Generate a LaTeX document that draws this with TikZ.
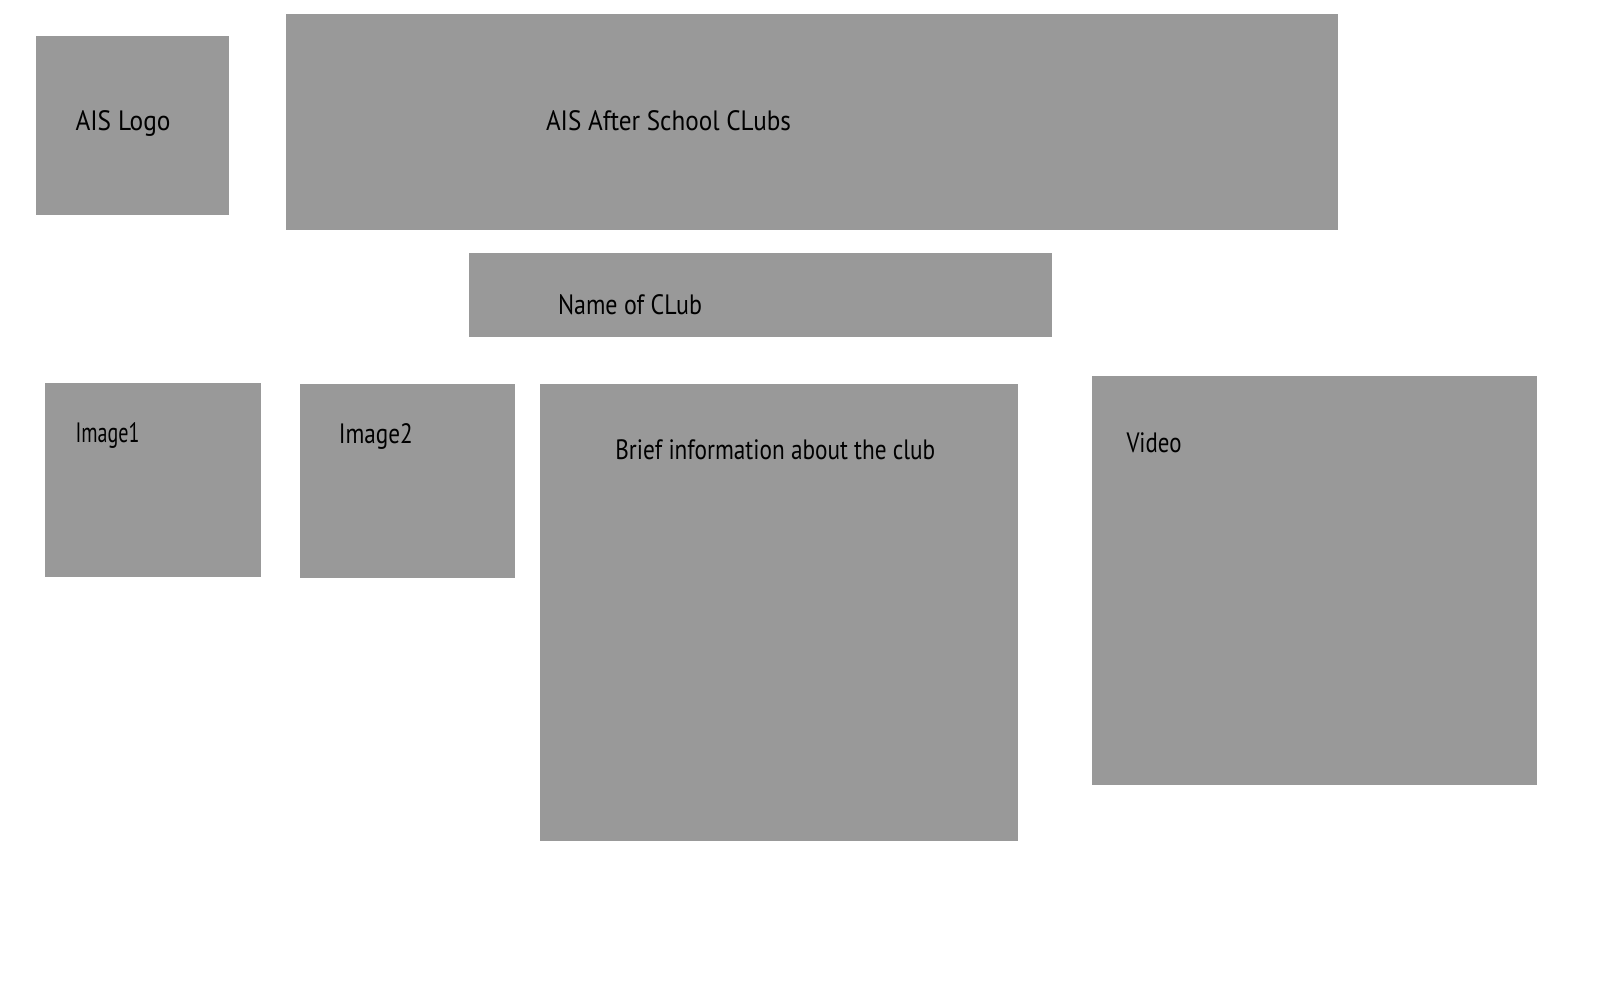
\documentclass[tikz,border=0pt]{standalone}
\usepackage{fontspec}
\setmainfont{PT Sans}
\usepackage{graphicx}
\definecolor{boxgray}{RGB}{153,153,153}
\newcommand\fitw[2]{\resizebox{#1}{\height}{#2}}
\tikzset{
  panel/.style={fill=boxgray, draw=none},
  lbl/.style={anchor=base west, inner sep=0pt, outer sep=0pt, text=black,
    font=\fontsize{28}{30}\selectfont}
}
\begin{document}
\begin{tikzpicture}[x=1pt,y=-1pt]
\useasboundingbox[fill=white] (0,0) rectangle (1600,1000);
% panels
\fill[panel] (35.7,35.7) rectangle (228.6,215.3);
\fill[panel] (285.7,14.3) rectangle (1337.7,229.6);
\fill[panel] (469.4,253) rectangle (1052,336.7);
\fill[panel] (44.9,382.7) rectangle (261.2,576.5);
\fill[panel] (300,383.7) rectangle (515.3,577.6);
\fill[panel] (539.8,383.7) rectangle (1018.4,840.8);
\fill[panel] (1091.8,375.5) rectangle (1536.7,784.7);
% labels
\node[lbl] (logo) at (75.5,130.7) {\fitw{95pt}{AIS Logo}};
\node[lbl] (title) at (546,130.6) {\fitw{245pt}{AIS After School CLubs}};
\node[lbl] (name) at (558,315) {\fitw{144pt}{Name of CLub}};
\node[lbl] (img1) at (75.5,442.7) {\fitw{64pt}{Image1}};
\node[lbl] (img2) at (338.8,443) {\fitw{74pt}{Image2}};
\node[lbl] (brief) at (615.3,459) {\fitw{320pt}{Brief information about the club}};
\node[lbl] (video) at (1126.5,452) {\fitw{55pt}{Video}};
\end{tikzpicture}
\end{document}
